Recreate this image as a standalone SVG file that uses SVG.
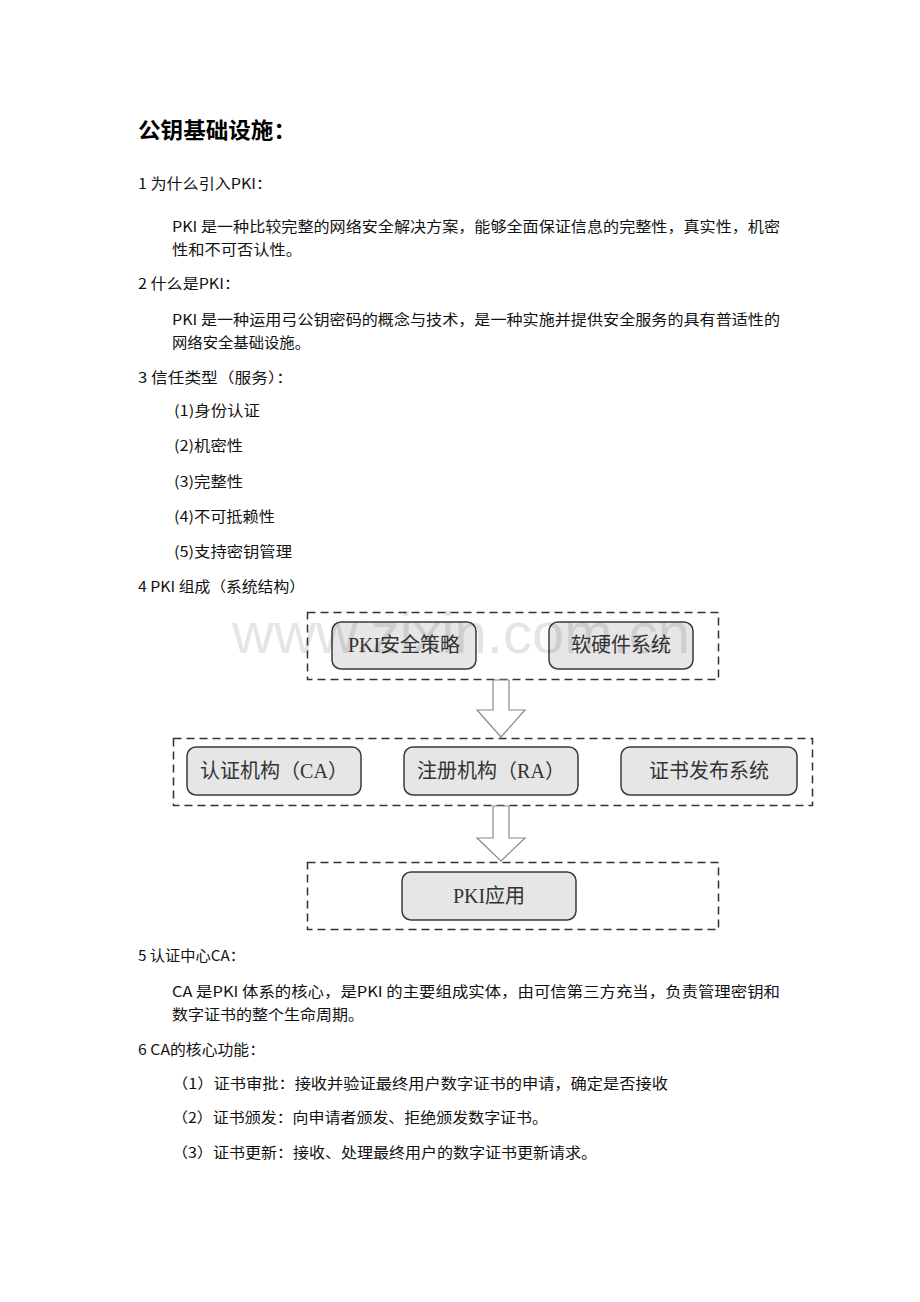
<svg xmlns="http://www.w3.org/2000/svg" width="920" height="1302" viewBox="0 0 920 1302">
<style>
.t{font-family:"Noto Sans CJK SC","DejaVu Sans",sans-serif;font-size:14.5px;fill:#111;}
.h{font-family:"Noto Sans CJK SC",sans-serif;font-size:22px;font-weight:bold;fill:#000;}
.dash{fill:none;stroke:#333;stroke-width:1.5;stroke-dasharray:8 5;}
.box{fill:#e6e6e6;stroke:#3a3a3a;stroke-width:1.5;}
.bt{font-family:"Liberation Serif","Noto Sans CJK SC",serif;font-size:20px;fill:#333;text-anchor:middle;}
.arr{fill:#fff;stroke:#8a8a8a;stroke-width:1.2;}
.wm{font-family:"Liberation Sans",Arial,sans-serif;font-size:58px;fill:#000;fill-opacity:0.1;}
</style>
<rect width="920" height="1302" fill="#fff"/>
<g id="text">
<text class="h" x="138" y="138" textLength="158" lengthAdjust="spacingAndGlyphs">公钥基础设施：</text>
<text class="t" x="138" y="189" textLength="134" lengthAdjust="spacingAndGlyphs">1 为什么引入PKI：</text>
<text class="t" x="172" y="232" textLength="608" lengthAdjust="spacingAndGlyphs">PKI 是一种比较完整的网络安全解决方案，能够全面保证信息的完整性，真实性，机密</text>
<text class="t" x="172" y="255" textLength="130" lengthAdjust="spacingAndGlyphs">性和不可否认性。</text>
<text class="t" x="138" y="289" textLength="102" lengthAdjust="spacingAndGlyphs">2 什么是PKI：</text>
<text class="t" x="172" y="325" textLength="608" lengthAdjust="spacingAndGlyphs">PKI 是一种运用弓公钥密码的概念与技术，是一种实施并提供安全服务的具有普适性的</text>
<text class="t" x="172" y="348" textLength="138" lengthAdjust="spacingAndGlyphs">网络安全基础设施。</text>
<text class="t" x="138" y="383" textLength="155" lengthAdjust="spacingAndGlyphs">3 信任类型（服务）：</text>
<text class="t" x="174" y="416" textLength="86" lengthAdjust="spacingAndGlyphs">(1)身份认证</text>
<text class="t" x="174" y="451" textLength="69" lengthAdjust="spacingAndGlyphs">(2)机密性</text>
<text class="t" x="174" y="487" textLength="69" lengthAdjust="spacingAndGlyphs">(3)完整性</text>
<text class="t" x="174" y="522" textLength="101" lengthAdjust="spacingAndGlyphs">(4)不可抵赖性</text>
<text class="t" x="174" y="557" textLength="118" lengthAdjust="spacingAndGlyphs">(5)支持密钥管理</text>
<text class="t" x="138" y="592" textLength="167" lengthAdjust="spacingAndGlyphs">4 PKI 组成（系统结构）</text>
<text class="t" x="138" y="961" textLength="107" lengthAdjust="spacingAndGlyphs">5 认证中心CA：</text>
<text class="t" x="172" y="997" textLength="608" lengthAdjust="spacingAndGlyphs">CA 是PKI 体系的核心，是PKI 的主要组成实体，由可信第三方充当，负责管理密钥和</text>
<text class="t" x="172" y="1020" textLength="192" lengthAdjust="spacingAndGlyphs">数字证书的整个生命周期。</text>
<text class="t" x="138" y="1055" textLength="127" lengthAdjust="spacingAndGlyphs">6 CA的核心功能：</text>
<text class="t" x="172" y="1089" textLength="496" lengthAdjust="spacingAndGlyphs">（1）证书审批：接收并验证最终用户数字证书的申请，确定是否接收</text>
<text class="t" x="172" y="1123" textLength="376" lengthAdjust="spacingAndGlyphs">（2）证书颁发：向申请者颁发、拒绝颁发数字证书。</text>
<text class="t" x="172" y="1158" textLength="425" lengthAdjust="spacingAndGlyphs">（3）证书更新：接收、处理最终用户的数字证书更新请求。</text>
</g>
<g id="groups">
<rect id="layer1" class="dash" x="307.5" y="612.5" width="411" height="67"/>
<rect id="layer2" class="dash" x="173.5" y="738.5" width="639" height="67"/>
<rect id="layer3" class="dash" x="307.5" y="862.5" width="411" height="67"/>
</g>
<g id="connectors">
<path class="arr" d="M493,680 L509,680 L509,710 L525,710 L501,737 L477,710 L493,710 Z"/>
<path class="arr" d="M493,806 L509,806 L509,838 L525,838 L501,861 L477,838 L493,838 Z"/>
</g>
<g id="node-policy"><rect class="box" x="332" y="622" width="144" height="47" rx="9"/><text class="bt" x="404" y="652">PKI安全策略</text></g>
<g id="node-system"><rect class="box" x="549" y="622" width="144" height="47" rx="9"/><text class="bt" x="621" y="652">软硬件系统</text></g>
<g id="node-ca"><rect class="box" x="187" y="747" width="174" height="48" rx="9"/><text class="bt" x="274" y="778">认证机构（CA）</text></g>
<g id="node-ra"><rect class="box" x="404" y="747" width="174" height="48" rx="9"/><text class="bt" x="491" y="778">注册机构（RA）</text></g>
<g id="node-pub"><rect class="box" x="621" y="747" width="176" height="48" rx="9"/><text class="bt" x="709" y="778">证书发布系统</text></g>
<g id="node-app"><rect class="box" x="402" y="872" width="174" height="48" rx="9"/><text class="bt" x="489" y="903">PKI应用</text></g>
<text class="wm" x="232" y="653" textLength="458" lengthAdjust="spacingAndGlyphs">www.zixin.com.cn</text>
</svg>
